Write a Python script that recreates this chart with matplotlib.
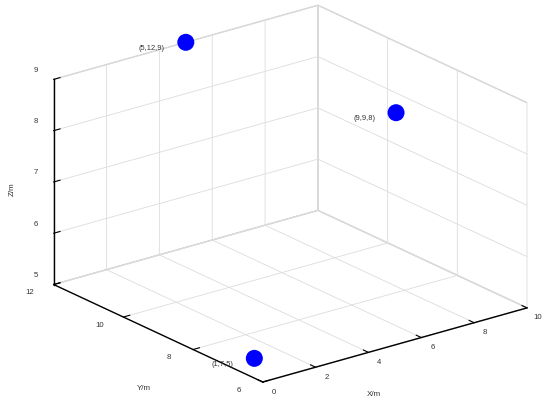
import matplotlib
matplotlib.use("Agg")
import matplotlib.pyplot as plt
from matplotlib.transforms import offset_copy

plt.rcParams['font.family'] = ['Liberation Sans', 'DejaVu Sans']
plt.rcParams['grid.color'] = '#dcdcdc'
plt.rcParams['grid.linewidth'] = 0.6

# points
xs = [1, 5, 9]
ys = [7, 12, 9]
zs = [5, 9, 8]
labels = ['(1,7,5)', '(5,12,9)', '(9,9,8)']

x_ticks = [0, 2, 4, 6, 8, 10]
y_ticks = [6, 8, 10, 12]
z_ticks = [5, 6, 7, 8, 9]

txt = '#333333'

fig = plt.figure(figsize=(5.5, 4.03), dpi=100)
ax = fig.add_axes([0.018, 0.006, 1, 1], projection='3d', proj_type='ortho')
ax.view_init(elev=21.2, azim=-127.8)
ax.set_box_aspect((1, 1.02, 0.658), zoom=1.267)

ax.scatter(xs, ys, zs, s=150, c='#0000ff', depthshade=False, edgecolors='none')

def shifted(dx, dy):
    return offset_copy(ax.transData, fig=fig, x=dx, y=dy, units='dots')

for x, y, z, t in zip(xs, ys, zs, labels):
    ax.text(x, y, z, t, fontsize=5.4, color=txt, ha='right', va='center',
            transform=shifted(-21, -6))

ax.set_xlim(0, 10)
ax.set_ylim(6, 12)
ax.set_zlim(5, 9)
ax.set_xticks(x_ticks)
ax.set_yticks(y_ticks)
ax.set_zticks(z_ticks)

# hide the built-in tick labels, they are drawn MATLAB-style below
for axis in (ax.xaxis, ax.yaxis, ax.zaxis):
    for t in axis.get_major_ticks():
        t.label1.set_visible(False)
        t.label2.set_visible(False)
    axis.offsetText.set_visible(False)

for v in x_ticks:
    ax.text(v, 6, 5, str(v), fontsize=5.6, color=txt, ha='center', va='center',
            transform=shifted(11, -10))
for v in y_ticks:
    ax.text(0, v, 5, str(v), fontsize=5.6, color=txt, ha='center', va='center',
            transform=shifted(-24, -8))
for v in z_ticks:
    ax.text(0, 12, v, str(v), fontsize=5.6, color=txt, ha='center', va='center',
            transform=shifted(-18, 9))

for axis in (ax.xaxis, ax.yaxis, ax.zaxis):
    axis.set_pane_color((1, 1, 1, 1))
    axis.pane.set_edgecolor('#d0d0d0')
    axis.line.set_color('black')
    axis.line.set_linewidth(1.0)
    axis._axinfo['grid'].update(color='#dcdcdc', linewidth=0.6)
    axis._axinfo['tick']['inward_factor'] = 0.0
    axis._axinfo['tick']['outward_factor'] = 0.3

ax.tick_params(colors='black')

fig.text(0.680, 0.020, 'X/m', fontsize=5.8, color=txt, ha='center', va='center')
fig.text(0.262, 0.037, 'Y/m', fontsize=5.8, color=txt, ha='center', va='center')
fig.text(0.022, 0.531, 'Z/m', fontsize=5.8, color=txt, ha='center', va='center',
         rotation=90)

fig.savefig('out.png', dpi=100)
